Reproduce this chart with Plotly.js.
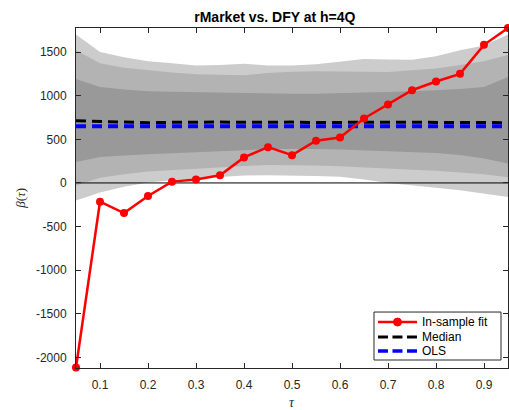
<!DOCTYPE html>
<html>
<head>
<meta charset="utf-8">
<script src="https://cdn.plot.ly/plotly-3.0.1.min.js"></script>
<style>html,body{margin:0;padding:0;background:#fff;}#chart{width:509px;height:410px;}</style>
</head>
<body>
<div id="chart"></div>
<script>
// Quantile levels
var tau = [0.05,0.10,0.15,0.20,0.25,0.30,0.35,0.40,0.45,0.50,0.55,0.60,0.65,0.70,0.75,0.80,0.85,0.90,0.95];

// In-sample fit
var inSample = [-2115,-215,-345,-150,15,40,88,292,410,318,483,520,738,898,1062,1162,1250,1582,1775];

// Median and OLS
var median = [712,705,695,690,695,700,697,695,700,697,692,690,695,695,697,695,693,692,690];
var ols    = [650,650,650,650,650,650,650,650,650,650,650,650,650,650,650,650,650,650,650];
var zeroRef = [0,0,0,0,0,0,0,0,0,0,0,0,0,0,0,0,0,0,0];

// Confidence bands (outer, middle, inner)
var outerUpper = [1700,1500,1440,1395,1370,1345,1350,1365,1345,1345,1360,1390,1420,1415,1410,1450,1520,1575,1700];
var outerLower = [-200,-110,-45,5,30,50,70,85,88,85,80,70,40,0,-30,-55,-85,-120,-160];
var midUpper   = [1520,1370,1320,1290,1265,1245,1238,1235,1260,1275,1280,1280,1275,1270,1290,1310,1350,1395,1465];
var midLower   = [-30,60,100,130,150,165,180,195,205,205,200,190,178,165,150,140,120,100,65];
var innerUpper = [1190,1100,1070,1050,1045,1040,1030,1025,1022,1022,1022,1025,1035,1042,1050,1062,1075,1100,1215];
var innerLower = [240,298,315,330,343,355,365,375,390,394,390,382,372,365,355,344,320,280,222];

var yTicks = [-2000,-1500,-1000,-500,0,500,1000,1500];
var yTickText = ["-2000","-1500","-1000","-500","0","500","1000","1500"];
var xTicks = [0.1,0.2,0.3,0.4,0.5,0.6,0.7,0.8,0.9];
var xTickText = ["0.1","0.2","0.3","0.4","0.5","0.6","0.7","0.8","0.9"];

var legendNames = ["In-sample fit", "Median", "OLS"];
var legendColors = ["#ff0000", "#000000", "#0000ff"];

function band(upper, lower, color) {
  return {
    x: tau.concat(tau.slice().reverse()),
    y: upper.concat(lower.slice().reverse()),
    type: 'scatter', mode: 'lines', fill: 'toself',
    fillcolor: color, line: {width: 0, color: color},
    hoverinfo: 'skip', showlegend: false
  };
}

var traces = [
  band(outerUpper, outerLower, '#cccccc'),
  band(midUpper, midLower, '#b3b3b3'),
  band(innerUpper, innerLower, '#999999'),
  {x: tau, y: zeroRef, type: 'scatter', mode: 'lines', line: {color: '#000000', width: 1}, showlegend: false, hoverinfo: 'skip'},
  {x: tau, y: median, type: 'scatter', mode: 'lines', name: legendNames[1],
   line: {color: legendColors[1], width: 3, dash: '10px,6px'}},
  {x: tau, y: ols, type: 'scatter', mode: 'lines', name: legendNames[2],
   line: {color: legendColors[2], width: 4, dash: '10px,6px'}},
  {x: tau, y: inSample, type: 'scatter', mode: 'lines+markers', name: legendNames[0],
   cliponaxis: false,
   line: {color: legendColors[0], width: 2.5}, marker: {color: legendColors[0], size: 8, symbol: 'circle'}}
];

var axisCommon = {
  showgrid: false, zeroline: false, showline: true, linecolor: '#262626', linewidth: 1,
  mirror: 'ticks', ticks: 'inside', ticklen: 5, tickcolor: '#262626', tickwidth: 1,
  tickfont: {family: 'Liberation Sans, Arial, sans-serif', size: 12, color: '#262626'}
};

// Compact legend box (paper coordinates of the plot area)
var lgX0 = 0.6898, lgX1 = 0.9838, lgY0 = 0.0235, lgY1 = 0.1646;
var rowY = [0.1352, 0.0911, 0.050];
var symX0 = 0.699, symX1 = 0.7894, symXc = 0.7442, txtX = 0.7963;
var legendFont = {family: 'Liberation Sans, Arial, sans-serif', size: 12, color: '#000000'};

var shapes = [
  {type: 'rect', xref: 'paper', yref: 'paper', x0: lgX0, x1: lgX1, y0: lgY0, y1: lgY1,
   fillcolor: '#ffffff', line: {color: '#262626', width: 1}, layer: 'above'},
  {type: 'line', xref: 'paper', yref: 'paper', x0: symX0, x1: symX1, y0: rowY[0], y1: rowY[0],
   line: {color: legendColors[0], width: 2.5}, layer: 'above'},
  {type: 'circle', xref: 'paper', yref: 'paper', xsizemode: 'pixel', ysizemode: 'pixel',
   xanchor: symXc, yanchor: rowY[0], x0: -4, x1: 4, y0: -4, y1: 4,
   fillcolor: legendColors[0], line: {color: legendColors[0], width: 1}, layer: 'above'},
  {type: 'line', xref: 'paper', yref: 'paper', x0: symX0, x1: symX1, y0: rowY[1], y1: rowY[1],
   line: {color: legendColors[1], width: 3, dash: '10px,4.5px'}, layer: 'above'},
  {type: 'line', xref: 'paper', yref: 'paper', x0: symX0, x1: symX1, y0: rowY[2], y1: rowY[2],
   line: {color: legendColors[2], width: 3.5, dash: '10px,4.5px'}, layer: 'above'}
];

var annotations = [
  {text: '<i>τ</i>', xref: 'paper', yref: 'paper', x: 0.5, y: -0.1, yanchor: 'middle', showarrow: false,
   font: {family: 'Liberation Serif, Times New Roman, serif', size: 14, color: '#262626'}},
  {text: '<i>β</i>(<i>τ</i>)', xref: 'paper', yref: 'paper', x: -0.13, y: 0.5, textangle: -90, xanchor: 'center', showarrow: false,
   font: {family: 'Liberation Serif, Times New Roman, serif', size: 13, color: '#262626'}}
];
for (var i = 0; i < legendNames.length; i++) {
  annotations.push({text: legendNames[i], xref: 'paper', yref: 'paper', x: txtX, y: rowY[i],
    xanchor: 'left', yanchor: 'middle', showarrow: false, font: legendFont});
}

var layout = {
  width: 509, height: 410,
  margin: {l: 76, r: 1, t: 28, b: 42},
  paper_bgcolor: '#ffffff', plot_bgcolor: '#ffffff',
  showlegend: false,
  title: {text: '<b>rMarket vs. DFY at h=4Q</b>', x: 0.54, xanchor: 'center', y: 0.958, yanchor: 'middle',
          font: {family: 'Liberation Sans, Arial, sans-serif', size: 14, color: '#000000'}},
  xaxis: Object.assign({}, axisCommon, {range: [0.05, 0.95], tickvals: xTicks, ticktext: xTickText, ticklabelstandoff: 6}),
  yaxis: Object.assign({}, axisCommon, {range: [-2120, 1775], tickvals: yTicks, ticktext: yTickText, ticklabelstandoff: 6}),
  shapes: shapes,
  annotations: annotations
};

Plotly.newPlot('chart', traces, layout, {displayModeBar: false, staticPlot: true});
</script>
</body>
</html>
